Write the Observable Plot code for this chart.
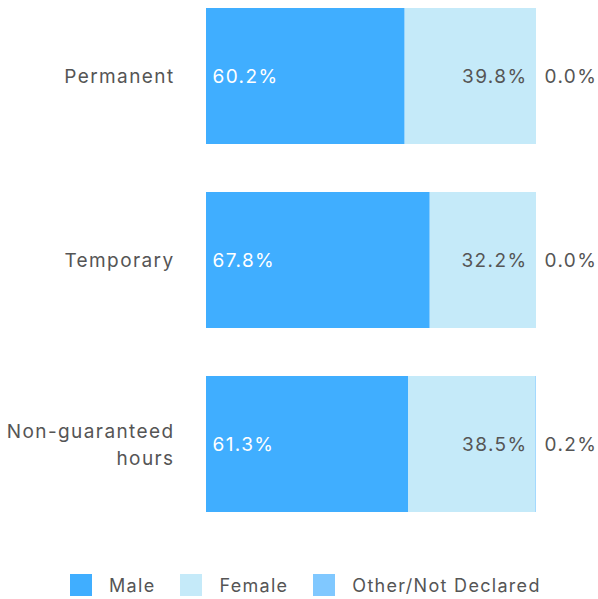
<!DOCTYPE html>
<html>
<head>
<meta charset="utf-8">
<script src="https://cdn.jsdelivr.net/npm/d3@7"></script>
<script src="https://cdn.jsdelivr.net/npm/@observablehq/plot@0.6"></script>
<style>
  body { margin: 0; background: #fff; font-family: Inter, "Noto Sans", sans-serif; }
  svg text { letter-spacing: 1.4px; }
  #legend { display: flex; justify-content: flex-start; align-items: center; margin: 54px 0 0 70px; font-size: 18px; letter-spacing: 1.3px; color: #555; }
  #legend .item { display: flex; align-items: center; margin-right: 25px; }
  #legend .sw { width: 22px; height: 22px; margin-right: 17px; }
</style>
</head>
<body>
<div id="chart"></div>
<script>
const categories = ["Permanent", "Temporary", "Non-guaranteed\nhours"];
const groups = ["Male", "Female", "Other/Not Declared"];
const colors = ["#40AEFF", "#C5EAF9", "#80C8FF"];
const maleValues = [60.2, 67.8, 61.3];
const femaleValues = [39.8, 32.2, 38.5];
const otherValues = [0.0, 0.0, 0.2];

const series = [maleValues, femaleValues, otherValues];
const data = [];
categories.forEach((c, i) => {
  groups.forEach((g, j) => data.push({category: c, group: g, value: series[j][i]}));
});
const rows = categories.map((c, i) => ({category: c, male: maleValues[i], female: femaleValues[i], other: otherValues[i]}));

const fmt = v => v.toFixed(1) + "%";

const chart = Plot.plot({
  width: 598,
  height: 520,
  marginLeft: 206,
  marginRight: 62,
  marginTop: 8,
  marginBottom: 8,
  style: {fontFamily: "Inter, 'Noto Sans', sans-serif", fontSize: "19px", color: "#555"},
  x: {domain: [0, 100], axis: null},
  y: {domain: categories, paddingInner: 0.26087, paddingOuter: 0, label: null},
  color: {domain: groups, range: colors},
  marks: [
    Plot.barX(data, Plot.stackX({x: "value", y: "category", fill: "group", order: groups})),
    Plot.axisY({tickSize: 0, tickPadding: 32, dy: -1.5, fontSize: 19, lineHeight: 1.38, fill: "#555", label: null}),
    Plot.text(rows, {x: 0, y: "category", text: d => fmt(d.male), textAnchor: "start", dx: 6, fill: "white", fontSize: 19}),
    Plot.text(rows, {x: 100, y: "category", text: d => fmt(d.female), textAnchor: "end", dx: -9, fill: "#555", fontSize: 19}),
    Plot.text(rows, {x: 100, y: "category", text: d => fmt(d.other), textAnchor: "start", dx: 8, fill: "#555", fontSize: 19})
  ]
});
document.getElementById("chart").appendChild(chart);

const legend = d3.select("body").append("div").attr("id", "legend");
groups.forEach((g, i) => {
  const item = legend.append("div").attr("class", "item");
  item.append("div").attr("class", "sw").style("background", colors[i]);
  item.append("span").text(g);
});
</script>
</body>
</html>
